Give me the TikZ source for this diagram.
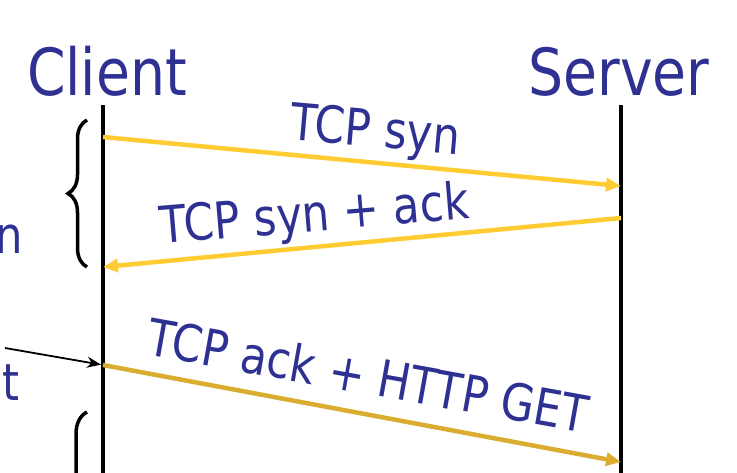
\documentclass[tikz,border=0pt]{standalone}
\usepackage{fontspec}
\newfontfamily\tah{DejaVu Sans}[FakeStretch=0.85]
\usetikzlibrary{arrows.meta,decorations.pathreplacing}
\definecolor{tblue}{RGB}{46,49,146}
\definecolor{ylw}{RGB}{255,204,51}
\definecolor{gold}{RGB}{218,172,48}
\begin{document}
\begin{tikzpicture}[x=1pt,y=-1pt,
  lbl/.style={font=\tah\fontsize{51}{55}\selectfont, text=tblue, inner sep=0pt},
  side/.style={font=\tah\fontsize{51}{55}\selectfont, text=tblue, inner sep=0pt},
  hdr/.style={font=\tah\fontsize{65}{70}\selectfont, text=tblue, inner sep=0pt},
  life/.style={line width=4pt},
  msg/.style={line width=4.5pt, -{Triangle[length=15pt,width=13pt]}},
  bracestyle/.style={line width=3.5pt, decorate},
]
\useasboundingbox (0,0) rectangle (737,472);
\clip (0,0) rectangle (737,472);
% headers
\node[hdr, anchor=base] (client) at (107,95) {Client};
\node[hdr, anchor=base] (server) at (619,95) {Server};
% lifelines
\coordinate (ctop) at (103,105); \coordinate (cbot) at (103,480);
\coordinate (stop) at (621,105); \coordinate (sbot) at (621,480);
\draw[life] (ctop) -- (cbot);
\draw[life] (stop) -- (sbot);
% message end points
\coordinate (c1) at (103,137); \coordinate (s1) at (621,186);
\coordinate (s2) at (621,218); \coordinate (c2) at (103,267);
\coordinate (c3) at (103,365); \coordinate (s3) at (621,462);
\draw[msg, color=ylw] (c1) -- (s1);
\draw[msg, color=ylw] (s2) -- (c2);
\draw[msg, color=gold] (c3) -- (s3);
% labels
\node[lbl, anchor=base, rotate=-5] (m1) at (374,147) {TCP syn};
\node[lbl, anchor=base, rotate=4.8] (m2) at (316,231) {TCP syn + ack};
\node[lbl, anchor=base, rotate=-10.2] (m3) at (365,394) {TCP ack + HTTP GET};
% braces
\draw[bracestyle, decoration={brace, amplitude=19pt}] (87,267) -- (87,120);
\draw[bracestyle, decoration={brace, amplitude=22pt}] (87,700) -- (87,412);
% left partial labels
\node[side, anchor=base east] (lt1) at (23,253) {n};
\node[side, anchor=base east] (lt2) at (20,400) {t};
\coordinate (rq) at (5,348);
\draw[line width=1.8pt, -{Stealth[length=14pt,width=11pt]}, shorten >=2pt] (rq) -- (c3);
\end{tikzpicture}
\end{document}
